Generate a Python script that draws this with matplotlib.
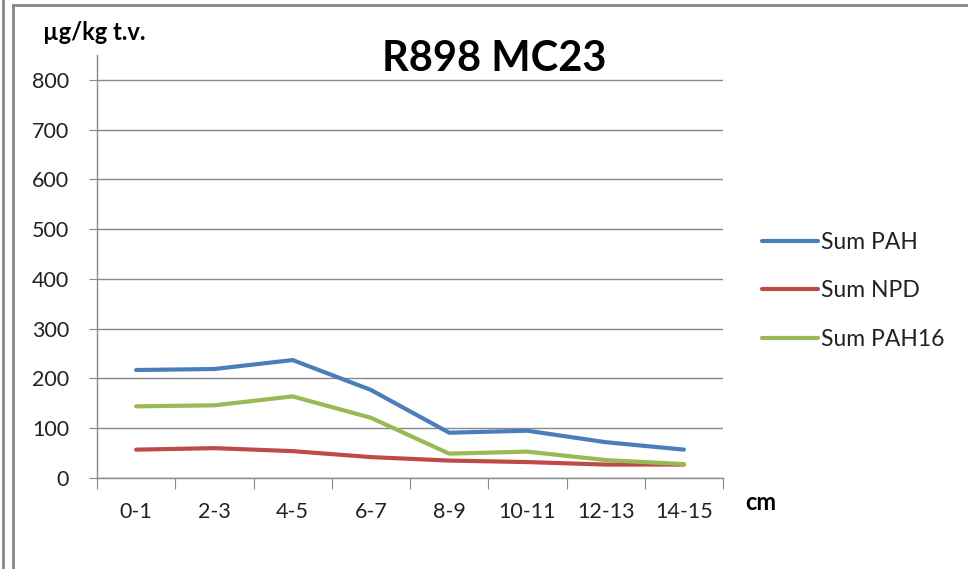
import numpy as np
import matplotlib
matplotlib.use("Agg")
import matplotlib.pyplot as plt
from matplotlib.lines import Line2D

plt.rcParams['font.family'] = ['Lato', 'DejaVu Sans']

# data
depths = ['0-1', '2-3', '4-5', '6-7', '8-9', '10-11', '12-13', '14-15']
sum_pah = [217, 219, 237, 177, 91, 95, 72, 57]
sum_npd = [57, 60, 54, 42, 35, 32, 27, 27]
sum_pah16 = [144, 146, 164, 121, 49, 53, 36, 28]
yticks = [0, 100, 200, 300, 400, 500, 600, 700, 800]

fig = plt.figure(figsize=(9.68, 5.69), dpi=100)
ax = fig.add_axes([97/968, 1-478/569, (723-97)/968, (478-55)/569])

x = np.arange(len(depths))
ax.plot(x, sum_pah, color='#4A7EBB', lw=3, solid_capstyle='round', label='Sum PAH')
ax.plot(x, sum_npd, color='#BE4B48', lw=3, solid_capstyle='round', label='Sum NPD')
ax.plot(x, sum_pah16, color='#98B954', lw=3, solid_capstyle='round', label='Sum PAH16')

ax.set_xlim(-0.5, len(depths)-0.5)
ax.set_ylim(0, 850)
ax.set_yticks(yticks)
ax.set_yticklabels([str(v) for v in yticks], fontsize=15.5, color='#222222')
ax.yaxis.grid(True, color='#888888', lw=1)
ax.set_axisbelow(True)

# category labels centred, tick marks on the boundaries
ax.set_xticks(np.arange(-0.5, len(depths)))
ax.set_xticklabels([])
ax.set_xticks(x, minor=True)
ax.set_xticklabels(depths, minor=True, fontsize=15.5, color='#222222')
ax.tick_params(axis='x', which='major', length=8, color='#888888', direction='out')
ax.tick_params(axis='x', which='minor', length=0, pad=17)
ax.tick_params(axis='y', length=6, color='#888888', pad=14)

for s in ['top', 'right']:
    ax.spines[s].set_visible(False)
for s in ['left', 'bottom']:
    ax.spines[s].set_color('#888888')
    ax.spines[s].set_linewidth(1)

fig.text(494/968, 1-59/569, 'R898 MC23', fontsize=30, fontweight='bold', ha='center', va='center')
fig.text(43/968, 1-33/569, 'µg/kg t.v.', fontsize=17, fontweight='bold', ha='left', va='center')
fig.text(745/968, 1-503/569, 'cm', fontsize=17, fontweight='bold', ha='left', va='center')

leg = ax.legend(loc='upper left', bbox_to_anchor=(741/968, 1-211/569), bbox_transform=fig.transFigure,
                frameon=False, fontsize=16.5, handlelength=2.45, handletextpad=0.15, labelspacing=1.2)
for t in leg.get_texts():
    t.set_color('#222222')

# outer chart frame
fig.add_artist(Line2D([3/968, 3/968], [0, 1], color='#888888', lw=2))
fig.add_artist(Line2D([13/968, 13/968], [0, 1-5/569], color='#888888', lw=2))
fig.add_artist(Line2D([13/968, 1], [1-5/569, 1-5/569], color='#888888', lw=2))

fig.savefig('out.png', dpi=100)
